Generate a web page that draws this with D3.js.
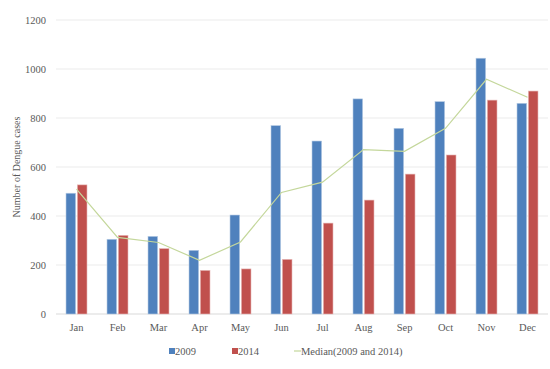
<!DOCTYPE html>
<html>
<head>
<meta charset="utf-8">
<script src="https://cdn.jsdelivr.net/npm/d3@7"></script>
<style>
  body { margin: 0; background: #fff; }
  svg text { font-family: "Liberation Serif", "DejaVu Serif", serif; }
</style>
</head>
<body>
<svg id="chart" width="550" height="369"></svg>
<script>
var months = ["Jan", "Feb", "Mar", "Apr", "May", "Jun", "Jul", "Aug", "Sep", "Oct", "Nov", "Dec"];
var cases2009 = [493, 305, 317, 260, 404, 769, 706, 878, 758, 867, 1044, 860];
var cases2014 = [527, 321, 267, 178, 184, 223, 371, 465, 571, 649, 873, 910];
var median = [510, 313, 292, 219, 294, 496, 538, 671, 664, 758, 958, 885];
var yTicks = [0, 200, 400, 600, 800, 1000, 1200];

function drawChart() {
    var svg = d3.select("#chart");
    var left = 56, right = 548, top = 20, bottom = 314;

    var x0 = d3.scaleBand().domain(months).range([left, right]);
    var x1 = d3.scaleBand().domain(["2009", "2014"]).range([-10.5, 10.5]).paddingInner(0.15);
    var y = d3.scaleLinear().domain([0, 1200]).range([bottom, top]);

    // gridlines
    svg.append("g")
        .selectAll("line")
        .data(yTicks)
        .enter()
        .append("line")
        .attr("x1", left)
        .attr("x2", right)
        .attr("y1", d => y(d))
        .attr("y2", d => y(d))
        .attr("stroke", d => d === 0 ? "#d9d9d9" : "#ebebeb")
        .attr("stroke-width", 1);

    // y axis labels
    var yAxis = svg.append("g")
        .attr("transform", "translate(" + left + ",0)")
        .call(d3.axisLeft(y).tickValues(yTicks).tickFormat(d3.format("d")).tickSize(0).tickPadding(10))
        .attr("font-family", null)
        .attr("font-size", "10.5px");
    yAxis.select(".domain").remove();
    yAxis.selectAll("text").attr("fill", "#595959");

    // x axis labels
    var xAxis = svg.append("g")
        .attr("transform", "translate(0," + bottom + ")")
        .call(d3.axisBottom(x0).tickSize(0).tickPadding(10))
        .attr("font-family", null)
        .attr("font-size", "10.5px");
    xAxis.select(".domain").remove();
    xAxis.selectAll("text").attr("fill", "#595959");

    var mid = m => x0(m) + x0.bandwidth() / 2;

    var series = [
        {key: "2009", values: cases2009, color: "#4f81bd", edge: "#b9cde5"},
        {key: "2014", values: cases2014, color: "#c0504d", edge: "#e6b9b8"}
    ];

    series.forEach(s => {
        svg.append("g")
            .selectAll("rect")
            .data(s.values)
            .enter()
            .append("rect")
            .attr("x", (d, i) => mid(months[i]) + x1(s.key))
            .attr("y", d => y(d))
            .attr("width", x1.bandwidth())
            .attr("height", d => y(0) - y(d))
            .attr("fill", s.color)
            .attr("stroke", s.edge)
            .attr("stroke-width", 0.6);
    });

    // median line
    var line = d3.line()
        .x((d, i) => mid(months[i]))
        .y(d => y(d));
    svg.append("path")
        .attr("d", line(median))
        .attr("fill", "none")
        .attr("stroke", "#c4d79b")
        .attr("stroke-width", 1.2);

    // y title
    svg.append("text")
        .attr("transform", "translate(20," + ((top + bottom) / 2) + ") rotate(-90)")
        .attr("text-anchor", "middle")
        .attr("fill", "#595959")
        .style("font-size", "10px")
        .text("Number of Dengue cases");

    // legend
    var legend = svg.append("g").style("font-size", "10.5px").attr("fill", "#595959");
    legend.append("rect").attr("x", 169).attr("y", 348).attr("width", 6).attr("height", 6).attr("fill", "#4f81bd");
    legend.append("text").attr("x", 175).attr("y", 355).text("2009");
    legend.append("rect").attr("x", 232).attr("y", 348).attr("width", 6).attr("height", 6).attr("fill", "#c0504d");
    legend.append("text").attr("x", 238).attr("y", 355).text("2014");
    legend.append("line").attr("x1", 294).attr("x2", 301).attr("y1", 351).attr("y2", 351)
        .attr("stroke", "#c4d79b").attr("stroke-width", 1.2);
    legend.append("text").attr("x", 301).attr("y", 355).text("Median(2009 and 2014)");
}

drawChart();
</script>
</body>
</html>
